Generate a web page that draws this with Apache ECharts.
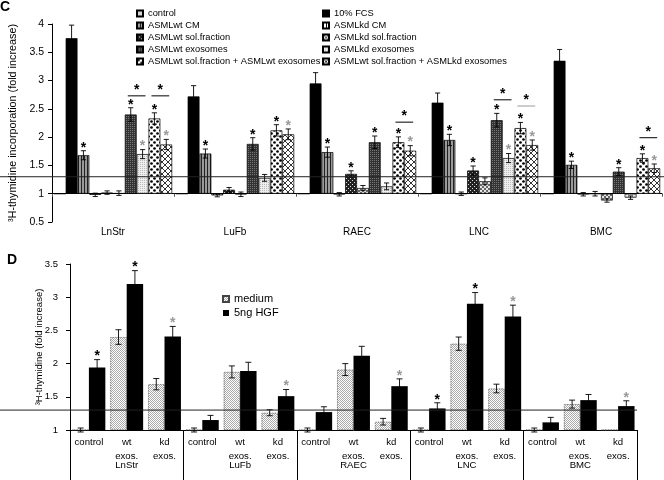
<!DOCTYPE html>
<html><head><meta charset="utf-8">
<script src="https://cdn.jsdelivr.net/npm/echarts@6/dist/echarts.min.js"></script>
<style>html,body{margin:0;padding:0;background:#fff}#c{width:664px;height:480px}</style>
</head><body><div id="c"></div>
<script>
// ---------- Panel C data ----------
const categoriesC = ['LnStr', 'LuFb', 'RAEC', 'LNC', 'BMC'];
const seriesNamesC = ['control', '10% FCS', 'ASMLwt CM', 'ASMLkd CM', 'ASMLwt sol.fraction', 'ASMLkd sol.fraction',
  'ASMLwt exosomes', 'ASMLkd exosomes', 'ASMLwt sol.fraction + ASMLwt exosomes', 'ASMLwt sol.fraction + ASMLkd exosomes'];
const ticksC = ['0.5', '1', '1.5', '2', '2.5', '3', '3.5', '4'];
const control = [1, 1, 1, 1, 1];
const controlErr = [null, null, null, null, null];
const fcs = [3.75, 2.72, 2.95, 2.61, 3.35];
const fcsErr = [0.23, 0.19, 0.19, 0.17, 0.2];
const wtCM = [1.68, 1.71, 1.735, 1.95, 1.51];
const wtCMErr = [0.08, 0.08, 0.09, 0.1, 0.065];
const kdCM = [0.98, 0.97, 0.99, 1.0, 0.99];
const kdCMErr = [0.03, 0.025, 0.03, 0.03, 0.03];
const wtSol = [1.02, 1.07, 1.35, 1.41, 1.0];
const wtSolErr = [0.03, 0.04, 0.055, 0.08, 0.04];
const kdSol = [1.01, 0.99, 1.10, 1.22, 0.88];
const kdSolErr = [0.04, 0.04, 0.045, 0.06, 0.03];
const wtExo = [2.4, 1.88, 1.91, 2.3, 1.39];
const wtExoErr = [0.12, 0.11, 0.11, 0.12, 0.07];
const kdExo = [1.7, 1.28, 1.13, 1.63, 0.93];
const kdExoErr = [0.08, 0.06, 0.06, 0.08, 0.03];
const wtSolWtExo = [2.33, 2.12, 1.91, 2.16, 1.63];
const wtSolWtExoErr = [0.1, 0.1, 0.095, 0.1, 0.075];
const wtSolKdExo = [1.87, 2.05, 1.76, 1.86, 1.45];
const wtSolKdExoErr = [0.09, 0.095, 0.09, 0.09, 0.075];
// significance stars: 0 none, 1 black, 2 grey
const starsControl = [0, 0, 0, 0, 0];
const starsFcs = [0, 0, 0, 0, 0];
const starsWtCM = [1, 1, 1, 1, 1];
const starsKdCM = [0, 0, 0, 0, 0];
const starsWtSol = [0, 0, 1, 1, 0];
const starsKdSol = [0, 0, 0, 0, 0];
const starsWtExo = [1, 1, 1, 1, 1];
const starsKdExo = [2, 0, 0, 2, 0];
const starsWtSolWtExo = [1, 1, 1, 1, 1];
const starsWtSolKdExo = [2, 2, 2, 2, 2];
// comparison brackets (category, bar from, bar to, level, line colour code)
const bracketCat = [0, 0, 2, 3, 3, 4];
const bracketFrom = [6, 8, 8, 6, 8, 8];
const bracketTo = [7, 9, 9, 7, 9, 9];
const bracketLevel = [2.73, 2.73, 2.265, 2.66, 2.55, 1.99];
const bracketLine = [1, 1, 1, 1, 2, 1];
const refLevel = 1.3;

// ---------- Panel D data ----------
const groupsD = ['LnStr', 'LuFb', 'RAEC', 'LNC', 'BMC'];
const treatmentsD = ['control', 'wt\nexos.', 'kd\nexos.'];
const ticksD = ['1', '1.5', '2', '2.5', '3', '3.5'];
const medium = [1.0, 2.4, 1.69, 1.0, 1.875, 1.26, 1.0, 1.91, 1.125, 1.0, 2.3, 1.625, 1.0, 1.39, 1.0];
const mediumErr = [0.03, 0.11, 0.085, 0.03, 0.09, 0.045, 0.03, 0.09, 0.05, 0.03, 0.1, 0.065, 0.03, 0.06, null];
const mediumStars = [0, 0, 0, 0, 0, 0, 0, 0, 0, 0, 0, 0, 0, 0, 0];
const hgf = [1.94, 3.2, 2.41, 1.15, 1.89, 1.51, 1.27, 2.12, 1.66, 1.325, 2.9, 2.71, 1.115, 1.45, 1.36];
const hgfErr = [0.12, 0.2, 0.15, 0.07, 0.13, 0.1, 0.08, 0.14, 0.11, 0.085, 0.17, 0.17, 0.075, 0.085, 0.08];
const hgfStars = [1, 1, 2, 0, 0, 2, 0, 0, 2, 1, 1, 2, 0, 0, 2];

// ---------- styles ----------
const FONT = 'Liberation Sans, Arial, Helvetica, sans-serif';
function pat(w, h, fn) {
  const c = document.createElement('canvas'); c.width = w; c.height = h;
  const g = c.getContext('2d'); fn(g, w, h); return { image: c, repeat: 'repeat' };
}
const pLight = pat(2, 2, g => { g.fillStyle = '#fff'; g.fillRect(0, 0, 2, 2); g.fillStyle = '#aaa'; g.fillRect(0, 0, 1, 1); g.fillRect(1, 1, 1, 1); });
const pWtCM = pat(3, 1, g => { g.fillStyle = '#9a9a9a'; g.fillRect(0, 0, 3, 1); g.fillStyle = '#222'; g.fillRect(0, 0, 1, 1); });
const pKdCM = pat(3, 1, g => { g.fillStyle = '#fff'; g.fillRect(0, 0, 3, 1); g.fillStyle = '#111'; g.fillRect(0, 0, 1, 1); });
const pWtSol = pat(4, 4, g => { g.fillStyle = '#222'; g.fillRect(0, 0, 4, 4); g.fillStyle = '#ddd'; g.fillRect(0, 0, 1, 1); g.fillRect(2, 2, 1, 1); });
const pKdSol = pat(4, 4, g => { g.fillStyle = '#e6e6e6'; g.fillRect(0, 0, 4, 4); g.fillStyle = '#666'; g.fillRect(0, 0, 2, 2); g.fillRect(2, 2, 2, 2); });
const pWtExo = pat(2, 2, g => { g.fillStyle = '#333'; g.fillRect(0, 0, 2, 2); g.fillStyle = '#777'; g.fillRect(0, 0, 1, 1); });
const pKdExo = pat(2, 2, g => { g.fillStyle = '#eee'; g.fillRect(0, 0, 2, 2); g.fillStyle = '#bbb'; g.fillRect(0, 0, 1, 1); });
const pDots = pat(6, 6, g => { g.fillStyle = '#fff'; g.fillRect(0, 0, 6, 6); g.fillStyle = '#000';
  [[1.5, 1.5], [4.5, 4.5]].forEach(([x, y]) => { g.beginPath(); g.arc(x, y, 1.35, 0, Math.PI * 2); g.fill(); }); });
const pCross = pat(6, 6, g => { g.fillStyle = '#fff'; g.fillRect(0, 0, 6, 6); g.strokeStyle = '#000'; g.lineWidth = 0.8;
  g.beginPath(); g.moveTo(0, 0); g.lineTo(6, 6); g.moveTo(6, 0); g.lineTo(0, 6); g.stroke(); });
const fillsC = [pLight, '#000', pWtCM, pKdCM, pWtSol, pKdSol, pWtExo, pKdExo, pDots, pCross];

const valuesC = [control, fcs, wtCM, kdCM, wtSol, kdSol, wtExo, kdExo, wtSolWtExo, wtSolKdExo];
const errsC = [controlErr, fcsErr, wtCMErr, kdCMErr, wtSolErr, kdSolErr, wtExoErr, kdExoErr, wtSolWtExoErr, wtSolKdExoErr];
const starsC = [starsControl, starsFcs, starsWtCM, starsKdCM, starsWtSol, starsKdSol, starsWtExo, starsKdExo, starsWtSolWtExo, starsWtSolKdExo];

const GAP_C = 0.03, GAP_D = 0.13;
const STAR_COL = ['', '#000', '#999'];

function barCenter(api, cat, si, n, gap) {
  const catW = api.size([1, 0])[0];
  const bw = catW * (1 - gap) / n;
  const cx = api.coord([cat, 0])[0] - catW * (1 - gap) / 2 + (si + 0.5) * bw;
  return { cx, bw };
}
function errRender(n, gap, cap) {
  return function (params, api) {
    const cat = api.value(0), si = api.value(1), v = api.value(2), e = api.value(3), st = api.value(4);
    const { cx } = barCenter(api, cat, si, n, gap);
    const children = [];
    let topY = api.coord([cat, Math.max(v, 0)])[1];
    if (!isNaN(e) && e > 0) {
      const y1 = api.coord([cat, v + e])[1], y2 = api.coord([cat, v - e])[1];
      const s = { stroke: '#000', lineWidth: 0.9 };
      children.push({ type: 'line', shape: { x1: cx, y1: y1, x2: cx, y2: y2 }, style: s });
      children.push({ type: 'line', shape: { x1: cx - cap, y1: y1, x2: cx + cap, y2: y1 }, style: s });
      children.push({ type: 'line', shape: { x1: cx - cap, y1: y2, x2: cx + cap, y2: y2 }, style: s });
      topY = y1;
    }
    if (st > 0) {
      children.push({ type: 'text', style: { text: '*', x: cx, y: topY - 3, align: 'center', verticalAlign: 'middle',
        fill: STAR_COL[st], font: 'bold 14px ' + FONT } });
    }
    return { type: 'group', children };
  };
}
function bracketRender(params, api) {
  const cat = api.value(0), a = api.value(1), b = api.value(2), lvl = api.value(3), lc = api.value(4);
  const A = barCenter(api, cat, a, 10, GAP_C), B = barCenter(api, cat, b, 10, GAP_C);
  const y = api.coord([cat, lvl])[1];
  const x1 = A.cx - A.bw * 0.25, x2 = B.cx + B.bw * 0.25;
  return { type: 'group', children: [
    { type: 'line', shape: { x1, y1: y, x2, y2: y }, style: { stroke: STAR_COL[lc], lineWidth: 1 } },
    { type: 'text', style: { text: '*', x: (x1 + x2) / 2, y: y - 6, align: 'center', verticalAlign: 'middle', fill: '#000', font: 'bold 14px ' + FONT } }
  ] };
}

const errDataC = [];
valuesC.forEach((vals, si) => vals.forEach((v, ci) => errDataC.push([ci, si, v - 1, errsC[si][ci], starsC[si][ci]])));
const bracketDataC = bracketCat.map((c, i) => [c, bracketFrom[i], bracketTo[i], bracketLevel[i] - 1, bracketLine[i]]);

const categoriesD = groupsD.flatMap(() => treatmentsD);
const errDataD = [];
[[medium, mediumErr, mediumStars], [hgf, hgfErr, hgfStars]].forEach(([vals, errs, stars], si) =>
  vals.forEach((v, ci) => errDataD.push([ci, si, v - 1, errs[ci], stars[ci]])));

const GRID_C = { left: 43, right: 2, top: 24, bottom: 258 };
const GRID_D = { left: 70, right: 27, top: 264, bottom: 50 };

const chart = echarts.init(document.getElementById('c'), null, { renderer: 'canvas' });
const txt = { fontFamily: FONT, color: '#000' };

const series = [];
seriesNamesC.forEach((name, i) => series.push({
  name, type: 'bar', xAxisIndex: 0, yAxisIndex: 0,
  data: valuesC[i].map(v => +(v - 1).toFixed(4)),
  barGap: '0%', barCategoryGap: (GAP_C * 100) + '%',
  itemStyle: { color: fillsC[i], borderColor: '#000', borderWidth: 0.7 },
  emphasis: { disabled: true }
}));
series.push({ type: 'custom', xAxisIndex: 0, yAxisIndex: 0, data: errDataC, encode: { x: 0, y: 2 },
  renderItem: errRender(10, GAP_C, 2.6), z: 5, silent: true });
series.push({ type: 'custom', xAxisIndex: 0, yAxisIndex: 0, data: bracketDataC, encode: { x: 0, y: 3 },
  renderItem: bracketRender, z: 5, silent: true });
series.push({ name: 'medium', type: 'bar', xAxisIndex: 1, yAxisIndex: 1, data: medium.map(v => +(v - 1).toFixed(4)),
  barGap: '0%', barCategoryGap: (GAP_D * 100) + '%',
  itemStyle: { color: pLight, borderColor: '#444', borderWidth: 0.8, borderType: 'dotted' }, emphasis: { disabled: true } });
series.push({ name: '5ng HGF', type: 'bar', xAxisIndex: 1, yAxisIndex: 1, data: hgf.map(v => +(v - 1).toFixed(4)),
  barGap: '0%', barCategoryGap: (GAP_D * 100) + '%',
  itemStyle: { color: '#000' }, emphasis: { disabled: true } });
series.push({ type: 'custom', xAxisIndex: 1, yAxisIndex: 1, data: errDataD, encode: { x: 0, y: 2 },
  renderItem: errRender(2, GAP_D, 3), z: 5, silent: true });

const legendBase = { orient: 'vertical', itemWidth: 6, itemHeight: 6, icon: 'rect', selectedMode: false, padding: 0,
  textStyle: { ...txt, fontSize: 9.3, lineHeight: 11 } };

chart.setOption({
  animation: false,
  title: [
    { text: 'C', left: 0, top: 0, padding: 0, textStyle: { ...txt, fontSize: 14, fontWeight: 'bold' } },
    { text: 'D', left: 7, top: 253, padding: 0, textStyle: { ...txt, fontSize: 14, fontWeight: 'bold' } }
  ],
  legend: [
    { ...legendBase, left: 136, top: 8, itemGap: 1, data: [0, 2, 4, 6, 8].map(i => seriesNamesC[i]) },
    { ...legendBase, left: 322, top: 8, itemGap: 1, data: [1, 3, 5, 7, 9].map(i => seriesNamesC[i]) },
    { ...legendBase, left: 222, top: 293, itemGap: 2, textStyle: { ...txt, fontSize: 11, lineHeight: 12 }, data: ['medium', '5ng HGF'] }
  ],
  grid: [
    { ...GRID_C },
    { ...GRID_D },
    { left: GRID_D.left, right: GRID_D.right, top: 480 - GRID_D.bottom - 1, bottom: GRID_D.bottom }
  ],
  xAxis: [
    { type: 'category', gridIndex: 0, data: categoriesC,
      axisLine: { onZero: true, lineStyle: { color: '#000', width: 1 } },
      axisTick: { show: true, length: 3, lineStyle: { color: '#555' } },
      axisLabel: { ...txt, fontSize: 10, margin: 5, fontFamily: 'Liberation Sans Narrow, ' + FONT } },
    { type: 'category', gridIndex: 1, data: categoriesD,
      axisLine: { lineStyle: { color: '#000', width: 1 } }, axisTick: { show: false },
      axisLabel: { ...txt, fontSize: 9.6, margin: 6, lineHeight: 13.5, interval: 0 } },
    { type: 'category', gridIndex: 2, data: groupsD, position: 'bottom',
      axisLine: { show: false }, axisTick: { show: true, length: 50, lineStyle: { color: '#000', width: 1 } },
      axisLabel: { ...txt, fontSize: 9.6, margin: 30 } }
  ],
  yAxis: [
    { type: 'value', gridIndex: 0, min: -0.5, max: 3, interval: 0.5,
      name: '³H-thymidine incorporation (fold increase)', nameLocation: 'middle', nameGap: 33, nameMoveOverlap: false,
      nameTextStyle: { ...txt, fontSize: 10.8 },
      axisLine: { show: true, lineStyle: { color: '#000' } }, axisTick: { show: true, length: 4, lineStyle: { color: '#000' } },
      splitLine: { show: false },
      axisLabel: { ...txt, fontSize: 10.5, margin: 8, formatter: (v) => ticksC[Math.round((v + 0.5) / 0.5)] } },
    { type: 'value', gridIndex: 1, min: 0, max: 2.5, interval: 0.5,
      name: '³H-thymidine (fold increase)', nameLocation: 'middle', nameGap: 26, nameMoveOverlap: false,
      nameTextStyle: { ...txt, fontSize: 9.5, lineHeight: 10 },
      axisLine: { show: true, lineStyle: { color: '#000' } }, axisTick: { show: true, length: 4, lineStyle: { color: '#000' } },
      splitLine: { show: false },
      axisLabel: { ...txt, fontSize: 9.5, margin: 12, formatter: (v) => ticksD[Math.round(v / 0.5)] } },
    { type: 'value', gridIndex: 2, show: false }
  ],
  series
});

// reference line at 1.3 fold, across the full width of each panel
const yC = chart.convertToPixel({ yAxisIndex: 0 }, refLevel - 1);
const yD = chart.convertToPixel({ yAxisIndex: 1 }, refLevel - 1);
chart.setOption({ graphic: [
  { type: 'line', z: 10, silent: true, shape: { x1: 0, y1: yC, x2: chart.getWidth(), y2: yC }, style: { stroke: '#222', lineWidth: 1 } },
  { type: 'line', z: 10, silent: true, shape: { x1: 0, y1: yD, x2: chart.getWidth() - GRID_D.right, y2: yD }, style: { stroke: '#222', lineWidth: 1 } }
] });
</script></body></html>
